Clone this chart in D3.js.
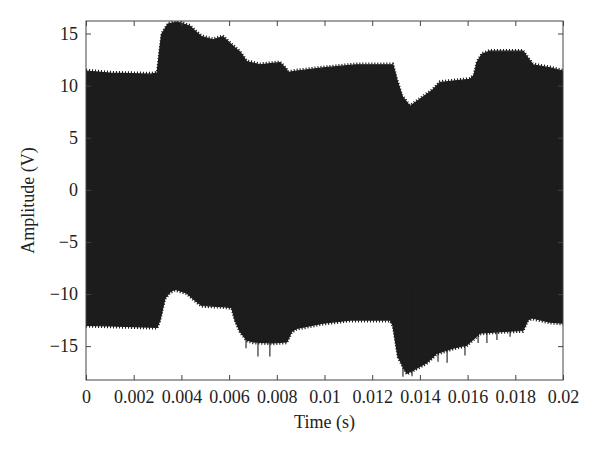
<!DOCTYPE html>
<html>
<head>
<meta charset="utf-8">
<script src="https://cdn.jsdelivr.net/npm/d3@7"></script>
<style>
  body { margin: 0; background: #fff; }
  svg text { font-family: "Liberation Serif", "DejaVu Serif", serif; fill: #222; }
  .axis path, .axis line { stroke: #444; }
</style>
</head>
<body>
<svg width="600" height="454"></svg>
<script>
// envelope of the dense waveform (t in s, volts)
const upperT = [0, 0.001, 0.0027, 0.00298, 0.00317, 0.00344, 0.00382, 0.00436, 0.00464, 0.00485,
  0.00532, 0.00574, 0.00616, 0.00646, 0.00674, 0.0073, 0.00813, 0.00839, 0.00847, 0.00883,
  0.00994, 0.01135, 0.01287, 0.01303, 0.01325, 0.01358, 0.01455, 0.01484, 0.0161, 0.01627,
  0.01639, 0.0166, 0.01694, 0.01832, 0.01874, 0.01946, 0.02];
const upperV = [11.4, 11.2, 11.1, 11.2, 14.9, 15.9, 16.1, 15.7, 15.1, 14.7,
  14.4, 14.7, 13.8, 13.2, 12.3, 12.0, 12.2, 11.6, 11.25, 11.4,
  11.7, 12.0, 12.0, 10.6, 9.0, 8.0, 9.6, 10.3, 10.6, 11.0,
  12.2, 13.0, 13.3, 13.3, 12.0, 11.7, 11.4];

const lowerT = [0, 0.00298, 0.0031, 0.00331, 0.00352, 0.00373, 0.00422, 0.00457, 0.00485, 0.00574,
  0.00611, 0.00625, 0.00646, 0.00674, 0.007, 0.00784, 0.00842, 0.00862, 0.00883, 0.00994,
  0.01107, 0.01275, 0.01287, 0.01308, 0.01338, 0.01345, 0.01371, 0.01428, 0.0147, 0.01539,
  0.01596, 0.01652, 0.01736, 0.01832, 0.01853, 0.01869, 0.01946, 0.02];
const lowerV = [-13.0, -13.2, -12.5, -10.4, -9.8, -9.55, -9.9, -10.6, -11.1, -11.2,
  -11.3, -12.5, -13.6, -14.4, -14.6, -14.7, -14.6, -13.6, -13.3, -12.8,
  -12.5, -12.5, -13.0, -16.0, -17.3, -17.6, -17.3, -16.6, -15.7, -15.2,
  -14.9, -13.75, -13.6, -13.5, -12.5, -12.3, -12.7, -12.8];

// downward spikes below the lower envelope
const spikeT = [0.00671, 0.00721, 0.00771, 0.01329, 0.01367, 0.01476, 0.01514, 0.01589,
  0.01644, 0.01681, 0.01723, 0.01778];
const spikeV = [-15.2, -16.0, -16.0, -17.95, -17.9, -16.5, -16.6, -15.9,
  -14.7, -14.7, -14.4, -14.1];

const xTicks = [0, 0.002, 0.004, 0.006, 0.008, 0.01, 0.012, 0.014, 0.016, 0.018, 0.02];
const yTicks = [-15, -10, -5, 0, 5, 10, 15];

const svg = d3.select('svg');
const margin = { left: 86, top: 21, right: 37, bottom: 74 };
const width = 600 - margin.left - margin.right;
const height = 454 - margin.top - margin.bottom;

const x = d3.scaleLinear().domain([0, 0.02]).range([0, width]);
const y = d3.scaleLinear().domain([-18.25, 16.2]).range([height, 0]);

const g = svg.append('g').attr('transform', `translate(${margin.left},${margin.top})`);

g.append('clipPath').attr('id', 'clip')
  .append('rect').attr('width', width).attr('height', height);

// merge both envelopes on a common time grid
const times = Array.from(new Set(upperT.concat(lowerT))).sort((a, b) => a - b);
const interp = (ts, vs) => t => {
  const i = d3.bisectRight(ts, t);
  if (i <= 0) return vs[0];
  if (i >= ts.length) return vs[vs.length - 1];
  const f = (t - ts[i - 1]) / (ts[i] - ts[i - 1]);
  return vs[i - 1] + f * (vs[i] - vs[i - 1]);
};
const up = interp(upperT, upperV);
const lo = interp(lowerT, lowerV);
const env = times.map(t => ({ t, hi: up(t), lo: lo(t) }));

const area = d3.area()
  .x(d => x(d.t))
  .y0(d => y(d.lo))
  .y1(d => y(d.hi));

const plot = g.append('g').attr('clip-path', 'url(#clip)');

plot.append('path')
  .datum(env)
  .attr('d', area)
  .attr('fill', '#1c1c1c')
  .attr('stroke', '#1c1c1c')
  .attr('stroke-width', 1.2);

// serrated edge: short dashes along both envelopes
plot.append('path')
  .datum(env)
  .attr('d', d3.line().x(d => x(d.t)).y(d => y(d.hi) - 1.2))
  .attr('fill', 'none')
  .attr('stroke', '#1c1c1c')
  .attr('stroke-width', 2.2)
  .attr('stroke-dasharray', '1.1,1.9');

plot.append('path')
  .datum(env)
  .attr('d', d3.line().x(d => x(d.t)).y(d => y(d.lo) + 1.2))
  .attr('fill', 'none')
  .attr('stroke', '#1c1c1c')
  .attr('stroke-width', 2.2)
  .attr('stroke-dasharray', '1.1,1.9');

plot.selectAll('line.spike').data(spikeT)
  .enter().append('line')
  .attr('class', 'spike')
  .attr('x1', d => x(d))
  .attr('x2', d => x(d))
  .attr('y1', (d, i) => y(spikeV[i]))
  .attr('y2', y(-9))
  .attr('stroke', '#1c1c1c')
  .attr('stroke-width', 1.1);

// axes (inward ticks, mirrored on top/right)
const fmtX = d => d === 0 ? '0' : d3.format('')(+d.toFixed(3));
const tickStyle = a => a.selectAll('text').style('font-size', '18px');

g.append('g').attr('class', 'axis')
  .attr('transform', `translate(0,${height})`)
  .call(d3.axisBottom(x).tickValues(xTicks).tickFormat(fmtX).tickSizeInner(-5).tickSizeOuter(0).tickPadding(10))
  .call(tickStyle)
  .call(a => a.select('.domain').remove());

g.append('g').attr('class', 'axis')
  .call(d3.axisTop(x).tickValues(xTicks).tickFormat('').tickSizeInner(-5).tickSizeOuter(0))
  .call(a => a.select('.domain').remove());

g.append('g').attr('class', 'axis')
  .call(d3.axisLeft(y).tickValues(yTicks).tickFormat(d3.format('')).tickSizeInner(-5).tickSizeOuter(0).tickPadding(8))
  .call(tickStyle)
  .call(a => a.select('.domain').remove());

g.append('g').attr('class', 'axis')
  .attr('transform', `translate(${width},0)`)
  .call(d3.axisRight(y).tickValues(yTicks).tickFormat('').tickSizeInner(-5).tickSizeOuter(0))
  .call(a => a.select('.domain').remove());

g.append('rect')
  .attr('width', width).attr('height', height)
  .attr('fill', 'none').attr('stroke', '#444').attr('stroke-width', 1);

g.append('text')
  .attr('x', width / 2).attr('y', height + 48)
  .attr('text-anchor', 'middle')
  .style('font-size', '18px')
  .text('Time (s)');

g.append('text')
  .attr('transform', `translate(${-52},${height / 2}) rotate(-90)`)
  .attr('text-anchor', 'middle')
  .style('font-size', '18px')
  .text('Amplitude (V)');
</script>
</body>
</html>
